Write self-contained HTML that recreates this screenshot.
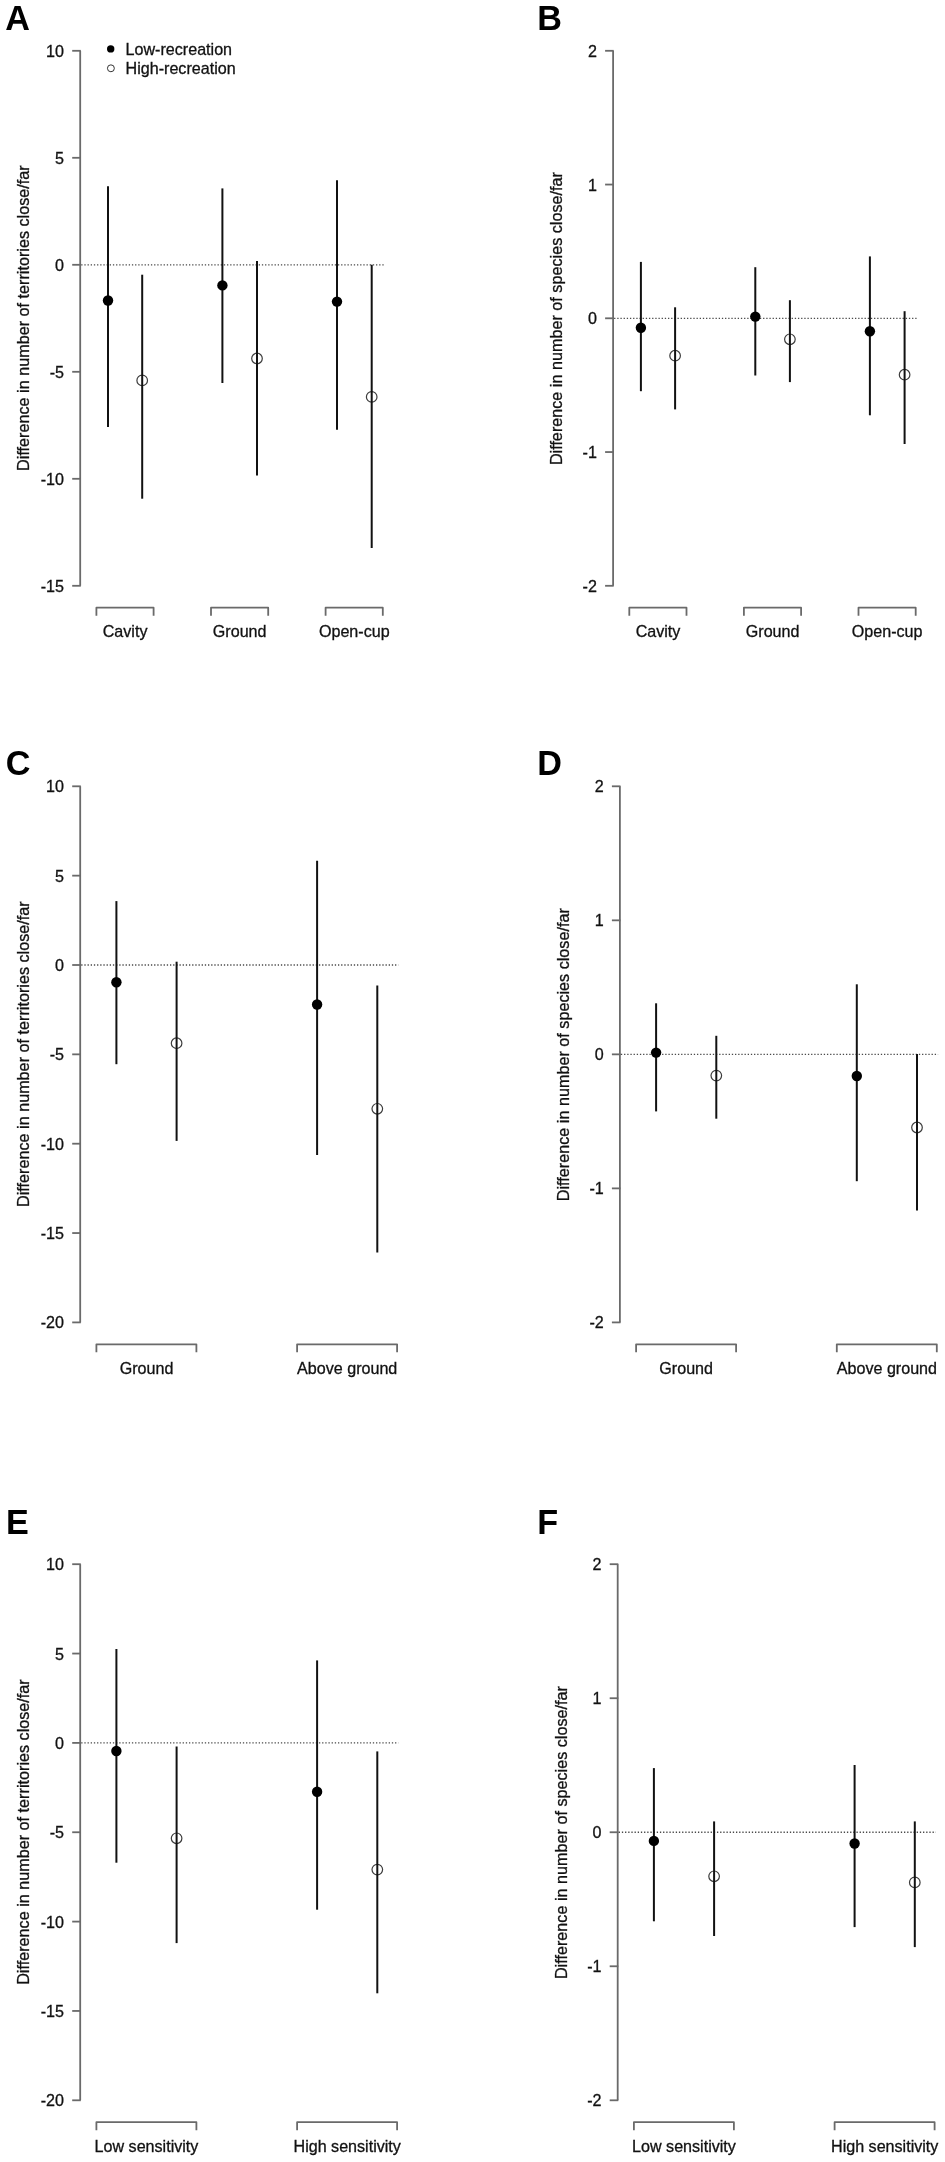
<!DOCTYPE html>
<html lang="en">
<head>
<meta charset="utf-8">
<title>Figure: difference in territories and species close/far</title>
<style>
html, body { margin: 0; padding: 0; background: #fff; }
body { width: 945px; height: 2162px; overflow: hidden; font-family: "Liberation Sans", sans-serif; }
svg { display: block; will-change: transform; font-family: "Liberation Sans", sans-serif; }
svg text.t { stroke: #111; stroke-width: 0.3px; paint-order: stroke fill; font-family: "Liberation Sans", sans-serif; }
</style>
</head>
<body>
<svg width="945" height="2162" viewBox="0 0 945 2162">
<rect x="0" y="0" width="945" height="2162" fill="#ffffff"/>
<g>
<text x="5.3" y="29.8" font-size="34.2" font-weight="bold" fill="#000">A</text>
<path d="M80.2 50.8V585.8" stroke="#6a6a6a" stroke-width="1.8" fill="none"/>
<path d="M72.2 50.8H80.8" stroke="#6a6a6a" stroke-width="1.8" fill="none"/>
<text x="64" y="56.8" class="t" font-size="16.1" text-anchor="end" fill="#111">10</text>
<path d="M72.2 157.8H80.8" stroke="#6a6a6a" stroke-width="1.8" fill="none"/>
<text x="64" y="163.8" class="t" font-size="16.1" text-anchor="end" fill="#111">5</text>
<path d="M72.2 264.8H80.8" stroke="#6a6a6a" stroke-width="1.8" fill="none"/>
<text x="64" y="270.8" class="t" font-size="16.1" text-anchor="end" fill="#111">0</text>
<path d="M72.2 371.8H80.8" stroke="#6a6a6a" stroke-width="1.8" fill="none"/>
<text x="64" y="377.8" class="t" font-size="16.1" text-anchor="end" fill="#111">-5</text>
<path d="M72.2 478.8H80.8" stroke="#6a6a6a" stroke-width="1.8" fill="none"/>
<text x="64" y="484.8" class="t" font-size="16.1" text-anchor="end" fill="#111">-10</text>
<path d="M72.2 585.8H80.8" stroke="#6a6a6a" stroke-width="1.8" fill="none"/>
<text x="64" y="591.8" class="t" font-size="16.1" text-anchor="end" fill="#111">-15</text>
<path d="M81.2 264.8H384" stroke="#4a4a4a" stroke-width="1.3" stroke-dasharray="1.3 1.87" fill="none"/>
<text transform="translate(29.1 318.1) rotate(-90)" class="t" font-size="16.2" text-anchor="middle" fill="#111">Difference in number of territories close/far</text>
<path d="M96.4 615.7V607.7H153.6V615.7" stroke="#6a6a6a" stroke-width="1.8" stroke-linejoin="round" fill="none"/>
<text x="125.1" y="637.1" class="t" font-size="16.1" text-anchor="middle" fill="#111">Cavity</text>
<path d="M211 615.7V607.7H268.2V615.7" stroke="#6a6a6a" stroke-width="1.8" stroke-linejoin="round" fill="none"/>
<text x="239.7" y="637.1" class="t" font-size="16.1" text-anchor="middle" fill="#111">Ground</text>
<path d="M325.6 615.7V607.7H382.8V615.7" stroke="#6a6a6a" stroke-width="1.8" stroke-linejoin="round" fill="none"/>
<text x="354.3" y="637.1" class="t" font-size="16.1" text-anchor="middle" fill="#111">Open-cup</text>
<path d="M108 186.3V426.9" stroke="#111" stroke-width="2" fill="none"/>
<circle cx="108" cy="300.5" r="5.2" fill="#000"/>
<circle cx="142.2" cy="380.4" r="5.3" stroke="#3c3c3c" stroke-width="1.2" fill="none"/>
<path d="M142.2 274.7V498.7" stroke="#111" stroke-width="2" fill="none"/>
<path d="M222.4 188.4V383" stroke="#111" stroke-width="2" fill="none"/>
<circle cx="222.4" cy="285.4" r="5.2" fill="#000"/>
<circle cx="257" cy="358.5" r="5.3" stroke="#3c3c3c" stroke-width="1.2" fill="none"/>
<path d="M257 261V475.4" stroke="#111" stroke-width="2" fill="none"/>
<path d="M337 180.3V429.7" stroke="#111" stroke-width="2" fill="none"/>
<circle cx="337" cy="301.6" r="5.2" fill="#000"/>
<circle cx="371.7" cy="396.9" r="5.3" stroke="#3c3c3c" stroke-width="1.2" fill="none"/>
<path d="M371.7 264.8V548" stroke="#111" stroke-width="2" fill="none"/>
<circle cx="110.7" cy="48.9" r="3.7" fill="#000"/>
<circle cx="110.9" cy="68.3" r="3.45" stroke="#333" stroke-width="1" fill="none"/>
<text x="125.6" y="54.8" class="t" font-size="16.1" fill="#111">Low-recreation</text>
<text x="125.6" y="74.2" class="t" font-size="16.1" fill="#111">High-recreation</text>
</g>
<g>
<text x="537.3" y="29.8" font-size="34.2" font-weight="bold" fill="#000">B</text>
<path d="M613.1 50.8V585.8" stroke="#6a6a6a" stroke-width="1.8" fill="none"/>
<path d="M605.1 50.8H613.7" stroke="#6a6a6a" stroke-width="1.8" fill="none"/>
<text x="596.9" y="56.8" class="t" font-size="16.1" text-anchor="end" fill="#111">2</text>
<path d="M605.1 184.55H613.7" stroke="#6a6a6a" stroke-width="1.8" fill="none"/>
<text x="596.9" y="190.55" class="t" font-size="16.1" text-anchor="end" fill="#111">1</text>
<path d="M605.1 318.3H613.7" stroke="#6a6a6a" stroke-width="1.8" fill="none"/>
<text x="596.9" y="324.3" class="t" font-size="16.1" text-anchor="end" fill="#111">0</text>
<path d="M605.1 452.05H613.7" stroke="#6a6a6a" stroke-width="1.8" fill="none"/>
<text x="596.9" y="458.05" class="t" font-size="16.1" text-anchor="end" fill="#111">-1</text>
<path d="M605.1 585.8H613.7" stroke="#6a6a6a" stroke-width="1.8" fill="none"/>
<text x="596.9" y="591.8" class="t" font-size="16.1" text-anchor="end" fill="#111">-2</text>
<path d="M614.1 318.3H916.9" stroke="#4a4a4a" stroke-width="1.3" stroke-dasharray="1.3 1.87" fill="none"/>
<text transform="translate(562 318.6) rotate(-90)" class="t" font-size="16.2" text-anchor="middle" fill="#111">Difference in number of species close/far</text>
<path d="M629.3 615.7V607.7H686.5V615.7" stroke="#6a6a6a" stroke-width="1.8" stroke-linejoin="round" fill="none"/>
<text x="658" y="637.1" class="t" font-size="16.1" text-anchor="middle" fill="#111">Cavity</text>
<path d="M743.9 615.7V607.7H801.1V615.7" stroke="#6a6a6a" stroke-width="1.8" stroke-linejoin="round" fill="none"/>
<text x="772.6" y="637.1" class="t" font-size="16.1" text-anchor="middle" fill="#111">Ground</text>
<path d="M858.5 615.7V607.7H915.7V615.7" stroke="#6a6a6a" stroke-width="1.8" stroke-linejoin="round" fill="none"/>
<text x="887.2" y="637.1" class="t" font-size="16.1" text-anchor="middle" fill="#111">Open-cup</text>
<path d="M640.9 261.9V391.2" stroke="#111" stroke-width="2" fill="none"/>
<circle cx="640.9" cy="327.7" r="5.2" fill="#000"/>
<circle cx="675.1" cy="355.7" r="5.3" stroke="#3c3c3c" stroke-width="1.2" fill="none"/>
<path d="M675.1 307.3V409.4" stroke="#111" stroke-width="2" fill="none"/>
<path d="M755.3 267.2V375.5" stroke="#111" stroke-width="2" fill="none"/>
<circle cx="755.3" cy="316.6" r="5.2" fill="#000"/>
<circle cx="789.9" cy="339.3" r="5.3" stroke="#3c3c3c" stroke-width="1.2" fill="none"/>
<path d="M789.9 300.2V382.1" stroke="#111" stroke-width="2" fill="none"/>
<path d="M869.9 256.4V415.3" stroke="#111" stroke-width="2" fill="none"/>
<circle cx="869.9" cy="331.3" r="5.2" fill="#000"/>
<circle cx="904.6" cy="374.7" r="5.3" stroke="#3c3c3c" stroke-width="1.2" fill="none"/>
<path d="M904.6 311.2V444" stroke="#111" stroke-width="2" fill="none"/>
</g>
<g>
<text x="5.8" y="775" font-size="34.2" font-weight="bold" fill="#000">C</text>
<path d="M80.2 786.3V1322.4" stroke="#6a6a6a" stroke-width="1.8" fill="none"/>
<path d="M72.2 786.3H80.8" stroke="#6a6a6a" stroke-width="1.8" fill="none"/>
<text x="64" y="792.3" class="t" font-size="16.1" text-anchor="end" fill="#111">10</text>
<path d="M72.2 875.65H80.8" stroke="#6a6a6a" stroke-width="1.8" fill="none"/>
<text x="64" y="881.65" class="t" font-size="16.1" text-anchor="end" fill="#111">5</text>
<path d="M72.2 965H80.8" stroke="#6a6a6a" stroke-width="1.8" fill="none"/>
<text x="64" y="971" class="t" font-size="16.1" text-anchor="end" fill="#111">0</text>
<path d="M72.2 1054.35H80.8" stroke="#6a6a6a" stroke-width="1.8" fill="none"/>
<text x="64" y="1060.35" class="t" font-size="16.1" text-anchor="end" fill="#111">-5</text>
<path d="M72.2 1143.7H80.8" stroke="#6a6a6a" stroke-width="1.8" fill="none"/>
<text x="64" y="1149.7" class="t" font-size="16.1" text-anchor="end" fill="#111">-10</text>
<path d="M72.2 1233.05H80.8" stroke="#6a6a6a" stroke-width="1.8" fill="none"/>
<text x="64" y="1239.05" class="t" font-size="16.1" text-anchor="end" fill="#111">-15</text>
<path d="M72.2 1322.4H80.8" stroke="#6a6a6a" stroke-width="1.8" fill="none"/>
<text x="64" y="1328.4" class="t" font-size="16.1" text-anchor="end" fill="#111">-20</text>
<path d="M81.2 965H398.4" stroke="#4a4a4a" stroke-width="1.3" stroke-dasharray="1.3 1.87" fill="none"/>
<text transform="translate(29.1 1054.15) rotate(-90)" class="t" font-size="16.2" text-anchor="middle" fill="#111">Difference in number of territories close/far</text>
<path d="M96.4 1352.3V1344.3H196.4V1352.3" stroke="#6a6a6a" stroke-width="1.8" stroke-linejoin="round" fill="none"/>
<text x="146.5" y="1373.7" class="t" font-size="16.1" text-anchor="middle" fill="#111">Ground</text>
<path d="M297.1 1352.3V1344.3H397.1V1352.3" stroke="#6a6a6a" stroke-width="1.8" stroke-linejoin="round" fill="none"/>
<text x="347.2" y="1373.7" class="t" font-size="16.1" text-anchor="middle" fill="#111">Above ground</text>
<path d="M116.4 901.1V1064.2" stroke="#111" stroke-width="2" fill="none"/>
<circle cx="116.4" cy="982.3" r="5.2" fill="#000"/>
<circle cx="176.6" cy="1043.2" r="5.3" stroke="#3c3c3c" stroke-width="1.2" fill="none"/>
<path d="M176.6 961.7V1140.9" stroke="#111" stroke-width="2" fill="none"/>
<path d="M317.1 860.7V1155" stroke="#111" stroke-width="2" fill="none"/>
<circle cx="317.1" cy="1004.5" r="5.2" fill="#000"/>
<circle cx="377.3" cy="1108.8" r="5.3" stroke="#3c3c3c" stroke-width="1.2" fill="none"/>
<path d="M377.3 985.6V1252.5" stroke="#111" stroke-width="2" fill="none"/>
</g>
<g>
<text x="537.3" y="775" font-size="34.2" font-weight="bold" fill="#000">D</text>
<path d="M619.9 786.3V1322.4" stroke="#6a6a6a" stroke-width="1.8" fill="none"/>
<path d="M611.9 786.3H620.5" stroke="#6a6a6a" stroke-width="1.8" fill="none"/>
<text x="603.7" y="792.3" class="t" font-size="16.1" text-anchor="end" fill="#111">2</text>
<path d="M611.9 920.33H620.5" stroke="#6a6a6a" stroke-width="1.8" fill="none"/>
<text x="603.7" y="926.33" class="t" font-size="16.1" text-anchor="end" fill="#111">1</text>
<path d="M611.9 1054.35H620.5" stroke="#6a6a6a" stroke-width="1.8" fill="none"/>
<text x="603.7" y="1060.35" class="t" font-size="16.1" text-anchor="end" fill="#111">0</text>
<path d="M611.9 1188.38H620.5" stroke="#6a6a6a" stroke-width="1.8" fill="none"/>
<text x="603.7" y="1194.38" class="t" font-size="16.1" text-anchor="end" fill="#111">-1</text>
<path d="M611.9 1322.4H620.5" stroke="#6a6a6a" stroke-width="1.8" fill="none"/>
<text x="603.7" y="1328.4" class="t" font-size="16.1" text-anchor="end" fill="#111">-2</text>
<path d="M620.9 1054.35H938.1" stroke="#4a4a4a" stroke-width="1.3" stroke-dasharray="1.3 1.87" fill="none"/>
<text transform="translate(568.8 1054.65) rotate(-90)" class="t" font-size="16.2" text-anchor="middle" fill="#111">Difference in number of species close/far</text>
<path d="M636.1 1352.3V1344.3H736.1V1352.3" stroke="#6a6a6a" stroke-width="1.8" stroke-linejoin="round" fill="none"/>
<text x="686.2" y="1373.7" class="t" font-size="16.1" text-anchor="middle" fill="#111">Ground</text>
<path d="M836.8 1352.3V1344.3H936.8V1352.3" stroke="#6a6a6a" stroke-width="1.8" stroke-linejoin="round" fill="none"/>
<text x="886.9" y="1373.7" class="t" font-size="16.1" text-anchor="middle" fill="#111">Above ground</text>
<path d="M656.1 1003.3V1111.4" stroke="#111" stroke-width="2" fill="none"/>
<circle cx="656.1" cy="1052.6" r="5.2" fill="#000"/>
<circle cx="716.3" cy="1075.6" r="5.3" stroke="#3c3c3c" stroke-width="1.2" fill="none"/>
<path d="M716.3 1035.8V1118.7" stroke="#111" stroke-width="2" fill="none"/>
<path d="M856.8 984.3V1181.2" stroke="#111" stroke-width="2" fill="none"/>
<circle cx="856.8" cy="1076" r="5.2" fill="#000"/>
<circle cx="917" cy="1127.5" r="5.3" stroke="#3c3c3c" stroke-width="1.2" fill="none"/>
<path d="M917 1054.1V1210.6" stroke="#111" stroke-width="2" fill="none"/>
</g>
<g>
<text x="6.1" y="1534" font-size="34.2" font-weight="bold" fill="#000">E</text>
<path d="M80.2 1564.2V2100.3" stroke="#6a6a6a" stroke-width="1.8" fill="none"/>
<path d="M72.2 1564.2H80.8" stroke="#6a6a6a" stroke-width="1.8" fill="none"/>
<text x="64" y="1570.2" class="t" font-size="16.1" text-anchor="end" fill="#111">10</text>
<path d="M72.2 1653.55H80.8" stroke="#6a6a6a" stroke-width="1.8" fill="none"/>
<text x="64" y="1659.55" class="t" font-size="16.1" text-anchor="end" fill="#111">5</text>
<path d="M72.2 1742.9H80.8" stroke="#6a6a6a" stroke-width="1.8" fill="none"/>
<text x="64" y="1748.9" class="t" font-size="16.1" text-anchor="end" fill="#111">0</text>
<path d="M72.2 1832.25H80.8" stroke="#6a6a6a" stroke-width="1.8" fill="none"/>
<text x="64" y="1838.25" class="t" font-size="16.1" text-anchor="end" fill="#111">-5</text>
<path d="M72.2 1921.6H80.8" stroke="#6a6a6a" stroke-width="1.8" fill="none"/>
<text x="64" y="1927.6" class="t" font-size="16.1" text-anchor="end" fill="#111">-10</text>
<path d="M72.2 2010.95H80.8" stroke="#6a6a6a" stroke-width="1.8" fill="none"/>
<text x="64" y="2016.95" class="t" font-size="16.1" text-anchor="end" fill="#111">-15</text>
<path d="M72.2 2100.3H80.8" stroke="#6a6a6a" stroke-width="1.8" fill="none"/>
<text x="64" y="2106.3" class="t" font-size="16.1" text-anchor="end" fill="#111">-20</text>
<path d="M81.2 1742.9H398.4" stroke="#4a4a4a" stroke-width="1.3" stroke-dasharray="1.3 1.87" fill="none"/>
<text transform="translate(29.1 1832.05) rotate(-90)" class="t" font-size="16.2" text-anchor="middle" fill="#111">Difference in number of territories close/far</text>
<path d="M96.4 2130.2V2122.2H196.4V2130.2" stroke="#6a6a6a" stroke-width="1.8" stroke-linejoin="round" fill="none"/>
<text x="146.5" y="2151.6" class="t" font-size="16.1" text-anchor="middle" fill="#111">Low sensitivity</text>
<path d="M297.1 2130.2V2122.2H397.1V2130.2" stroke="#6a6a6a" stroke-width="1.8" stroke-linejoin="round" fill="none"/>
<text x="347.2" y="2151.6" class="t" font-size="16.1" text-anchor="middle" fill="#111">High sensitivity</text>
<path d="M116.4 1649V1862.7" stroke="#111" stroke-width="2" fill="none"/>
<circle cx="116.4" cy="1751" r="5.2" fill="#000"/>
<circle cx="176.6" cy="1838.3" r="5.3" stroke="#3c3c3c" stroke-width="1.2" fill="none"/>
<path d="M176.6 1746.5V1943.1" stroke="#111" stroke-width="2" fill="none"/>
<path d="M317.1 1660.4V1909.7" stroke="#111" stroke-width="2" fill="none"/>
<circle cx="317.1" cy="1791.8" r="5.2" fill="#000"/>
<circle cx="377.3" cy="1869.6" r="5.3" stroke="#3c3c3c" stroke-width="1.2" fill="none"/>
<path d="M377.3 1751.4V1993.3" stroke="#111" stroke-width="2" fill="none"/>
</g>
<g>
<text x="537.3" y="1534" font-size="34.2" font-weight="bold" fill="#000">F</text>
<path d="M617.7 1564.2V2100.3" stroke="#6a6a6a" stroke-width="1.8" fill="none"/>
<path d="M609.7 1564.2H618.3" stroke="#6a6a6a" stroke-width="1.8" fill="none"/>
<text x="601.5" y="1570.2" class="t" font-size="16.1" text-anchor="end" fill="#111">2</text>
<path d="M609.7 1698.23H618.3" stroke="#6a6a6a" stroke-width="1.8" fill="none"/>
<text x="601.5" y="1704.23" class="t" font-size="16.1" text-anchor="end" fill="#111">1</text>
<path d="M609.7 1832.25H618.3" stroke="#6a6a6a" stroke-width="1.8" fill="none"/>
<text x="601.5" y="1838.25" class="t" font-size="16.1" text-anchor="end" fill="#111">0</text>
<path d="M609.7 1966.28H618.3" stroke="#6a6a6a" stroke-width="1.8" fill="none"/>
<text x="601.5" y="1972.28" class="t" font-size="16.1" text-anchor="end" fill="#111">-1</text>
<path d="M609.7 2100.3H618.3" stroke="#6a6a6a" stroke-width="1.8" fill="none"/>
<text x="601.5" y="2106.3" class="t" font-size="16.1" text-anchor="end" fill="#111">-2</text>
<path d="M618.7 1832.25H935.9" stroke="#4a4a4a" stroke-width="1.3" stroke-dasharray="1.3 1.87" fill="none"/>
<text transform="translate(566.6 1832.55) rotate(-90)" class="t" font-size="16.2" text-anchor="middle" fill="#111">Difference in number of species close/far</text>
<path d="M633.9 2130.2V2122.2H733.9V2130.2" stroke="#6a6a6a" stroke-width="1.8" stroke-linejoin="round" fill="none"/>
<text x="684" y="2151.6" class="t" font-size="16.1" text-anchor="middle" fill="#111">Low sensitivity</text>
<path d="M834.6 2130.2V2122.2H934.6V2130.2" stroke="#6a6a6a" stroke-width="1.8" stroke-linejoin="round" fill="none"/>
<text x="884.7" y="2151.6" class="t" font-size="16.1" text-anchor="middle" fill="#111">High sensitivity</text>
<path d="M653.9 1768.1V1921.3" stroke="#111" stroke-width="2" fill="none"/>
<circle cx="653.9" cy="1840.9" r="5.2" fill="#000"/>
<circle cx="714.1" cy="1876.3" r="5.3" stroke="#3c3c3c" stroke-width="1.2" fill="none"/>
<path d="M714.1 1821.4V1936" stroke="#111" stroke-width="2" fill="none"/>
<path d="M854.6 1765V1927.1" stroke="#111" stroke-width="2" fill="none"/>
<circle cx="854.6" cy="1843.5" r="5.2" fill="#000"/>
<circle cx="914.8" cy="1882.4" r="5.3" stroke="#3c3c3c" stroke-width="1.2" fill="none"/>
<path d="M914.8 1821.4V1947.1" stroke="#111" stroke-width="2" fill="none"/>
</g>
</svg>
</body>
</html>
